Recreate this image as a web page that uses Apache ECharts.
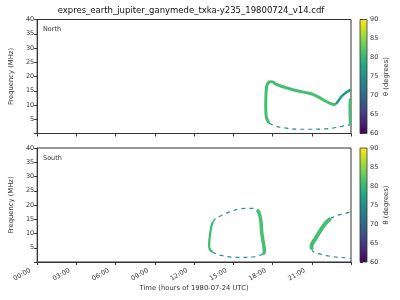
<!DOCTYPE html>
<html>
<head>
<meta charset="utf-8">
<script src="https://cdn.jsdelivr.net/npm/echarts@6/dist/echarts.min.js"></script>
<style>html,body{margin:0;padding:0;background:#fff}#c{width:400px;height:300px}</style>
</head>
<body>
<div id="c"></div>
<script>
// ---------- data (hours of day, MHz, theta degrees) ----------
const titleText = 'expres_earth_jupiter_ganymede_txka-y235_19800724_v14.cdf';
const timeTickLabels = ['00:00','03:00','06:00','09:00','12:00','15:00','18:00','21:00'];
const freqTickLabels = ['', '5', '10', '15', '20', '25', '30', '35', '40'];
const thetaTickLabels = ['60','65','70','75','80','85','90'];
const thetaRange = [60, 90];

// North hemisphere
const northLeftTop = [[17.75,3.7],[17.6,4.7],[17.5,6.5],[17.48,10],[17.5,14],[17.55,16.5],[17.65,17.7],[17.8,18.2],[18.0,18.1],[18.3,17.2],[18.8,16.4],[19.3,15.7],[19.8,15.1],[20.3,14.6],[20.8,14.1],[21.2,13.5],[21.6,12.6],[22.0,11.5],[22.4,10.6],[22.7,10.2],[22.85,10.3]];
const northLeftTopTheta = 81;
const northRise = [[22.85,10.3],[23.05,11.6],[23.3,13.1],[23.6,14.3],[23.97,15.4]];
const northRiseTheta = 76.5;
const northRightEdge = [[23.93,12.3],[23.9,9],[23.92,5],[23.96,3.0]];
const northRightEdgeTheta = 81;
const northBottom = [[17.75,3.7],[18.1,2.8],[18.6,2.2],[19.2,1.8],[20.0,1.5],[21.0,1.5],[22.0,1.6],[22.6,1.9],[23.2,2.4],[23.6,2.9],[23.96,3.0]];
const northBottomTheta = 74;

// South hemisphere
const southLeft = [[13.43,14.1],[13.3,12],[13.2,9],[13.15,6],[13.2,4.5],[13.4,3.6]];
const southLeftTheta = 80.5;
const southTop = [[13.43,14.1],[13.68,15.3],[14.18,16.5],[14.8,17.7],[15.43,18.6],[16.05,18.8],[16.55,18.8],[16.8,18.3]];
const southTopTheta = 76;
const southRight = [[16.8,18.3],[16.95,17.5],[17.1,14.7],[17.18,10.1],[17.3,6.6],[17.38,3.6],[17.25,2.7]];
const southRightTheta = 81;
const southBottom = [[13.4,3.6],[13.75,2.7],[14.2,2.2],[14.8,1.7],[15.5,1.6],[16.3,1.65],[16.9,2.2],[17.25,2.7]];
const southBottomTheta = 75;
const south2Band = [[22.43,15.3],[22.05,13.6],[21.68,11.2],[21.3,8.3],[20.98,5.6],[21.0,4.5]];
const south2BandTheta = 81;
const south2Top = [[22.43,15.3],[22.93,16.3],[23.43,16.9],[23.97,17.6]];
const south2TopTheta = 74;
const south2Bottom = [[21.0,4.5],[21.1,3.7],[21.43,3.0],[21.93,2.5],[22.3,2.1],[22.93,1.7],[23.5,1.5],[23.97,1.3]];
const south2BottomTheta = 74;

// ---------- styling ----------
const viridis = ['#440154','#482475','#414487','#355f8d','#2a788e','#21918c','#22a884','#44bf70','#7ad151','#bddf26','#fde725'];
function hex2rgb(h){return [1,3,5].map(i=>parseInt(h.substr(i,2),16));}
function thetaColor(t){
  let u = (t - thetaRange[0])/(thetaRange[1]-thetaRange[0]);
  u = Math.max(0, Math.min(1, u));
  const p = u*(viridis.length-1), i = Math.min(Math.floor(p), viridis.length-2), f = p - i;
  const a = hex2rgb(viridis[i]), b = hex2rgb(viridis[i+1]);
  return 'rgb(' + a.map((v,k)=>Math.round(v+(b[k]-v)*f)).join(',') + ')';
}
const FONT = 'DejaVu Sans';
const AX = '#333';

function seg(data, theta, grid, width, dashed){
  return {
    type:'line', xAxisIndex:grid, yAxisIndex:grid, data:data, symbol:'none', smooth:0.35,
    lineStyle:{color:thetaColor(theta), width:width, type: dashed ? [4,4] : 'solid', cap:'butt'},
    silent:true, animation:false, z:3
  };
}

const chart = echarts.init(document.getElementById('c'), null, {renderer:'canvas'});

const gridL = 31, gridW = 320, gridH = 114;
const tops = [19.5, 148];

function mainX(i, showLabels){
  return {
    gridIndex:i, type:'value', min:0, max:24, interval:3,
    axisLine:{show:true, lineStyle:{color:AX, width:1}},
    axisTick:{show:true, length:3, lineStyle:{color:AX}},
    splitLine:{show:false},
    axisLabel:{show:showLabels, rotate:30, align:'right', verticalAlign:'middle', padding:[0,8,0,0], fontSize:6.5, fontFamily:FONT, color:AX, margin:4,
      formatter:v => { const k = Math.round(v/3); return k < timeTickLabels.length ? timeTickLabels[k] : ''; }},
    name: showLabels ? 'Time (hours of 1980-07-24 UTC)' : '',
    nameLocation:'middle', nameGap:22,
    nameTextStyle:{fontSize:6.8, fontFamily:FONT, color:AX}
  };
}
function mainY(i){
  return {
    gridIndex:i, type:'value', min:0, max:40, interval:5,
    axisLine:{show:true, lineStyle:{color:AX, width:1}},
    axisTick:{show:true, length:3, lineStyle:{color:AX}},
    splitLine:{show:false},
    axisLabel:{fontSize:6.5, fontFamily:FONT, color:AX, margin:3,
      formatter:v => freqTickLabels[Math.round(v/5)] || ''},
    name:'Frequency (MHz)', nameLocation:'middle', nameGap:17,
    nameTextStyle:{fontSize:6.8, fontFamily:FONT, color:AX}
  };
}
function cbX(i){ return {gridIndex:i, type:'value', min:0, max:1, show:false}; }
function cbY(i){
  return {
    gridIndex:i, type:'value', min:thetaRange[0], max:thetaRange[1], interval:5, position:'right',
    axisLine:{show:false}, axisTick:{show:true, length:3, lineStyle:{color:AX}},
    splitLine:{show:false},
    axisLabel:{fontSize:6.5, fontFamily:FONT, color:AX, margin:3,
      formatter:v => thetaTickLabels[Math.round((v-thetaRange[0])/5)] || ''},
    name:'θ (degrees)', nameLocation:'middle', nameGap:16,
    nameTextStyle:{fontSize:6.8, fontFamily:FONT, color:AX}
  };
}
function cbSeries(i){
  return {
    type:'custom', xAxisIndex:i, yAxisIndex:i, data:[[thetaRange[0], thetaRange[1]]], silent:true, animation:false,
    renderItem:(params, api) => {
      const p0 = api.coord([0, api.value(0)]), p1 = api.coord([1, api.value(1)]);
      return {type:'rect', shape:{x:p0[0], y:p1[1], width:p1[0]-p0[0], height:p0[1]-p1[1]},
        style:{fill:new echarts.graphic.LinearGradient(0,1,0,0, viridis.map((c,k)=>({offset:k/(viridis.length-1), color:c}))),
               stroke:AX, lineWidth:0.8}};
    }
  };
}

const option = {
  backgroundColor:'#fff',
  animation:false,
  grid:[
    {left:gridL, top:tops[0], width:gridW, height:gridH, show:true, borderColor:AX, borderWidth:1, backgroundColor:'transparent'},
    {left:gridL, top:tops[1], width:gridW, height:gridH, show:true, borderColor:AX, borderWidth:1, backgroundColor:'transparent'},
    {left:360, top:tops[0], width:7, height:gridH},
    {left:360, top:tops[1], width:7, height:gridH}
  ],
  xAxis:[mainX(0,false), mainX(1,true), cbX(2), cbX(3)],
  yAxis:[mainY(0), mainY(1), cbY(2), cbY(3)],
  graphic:[
    {type:'text', style:{x:191, y:11, text:titleText, textAlign:'center', textVerticalAlign:'middle', font:'8.5px "DejaVu Sans"', fill:'#111'}},
    {type:'text', style:{x:43, y:29.5, text:'North', textAlign:'left', textVerticalAlign:'middle', font:'6.5px "DejaVu Sans"', fill:AX}},
    {type:'text', style:{x:43, y:158, text:'South', textAlign:'left', textVerticalAlign:'middle', font:'6.5px "DejaVu Sans"', fill:AX}}
  ],
  series:[
    seg(northBottom, northBottomTheta, 0, 1.2, true),
    seg(northLeftTop, northLeftTopTheta, 0, 3, false),
    seg(northRise, northRiseTheta, 0, 2.5, false),
    seg(northRightEdge, northRightEdgeTheta, 0, 2.5, false),
    seg(southBottom, southBottomTheta, 1, 1.2, true),
    seg(southTop, southTopTheta, 1, 1.2, true),
    seg(southLeft, southLeftTheta, 1, 2.2, false),
    seg(southRight, southRightTheta, 1, 3.5, false),
    seg(south2Top, south2TopTheta, 1, 1.2, true),
    seg(south2Bottom, south2BottomTheta, 1, 1.2, true),
    seg(south2Band, south2BandTheta, 1, 4, false),
    cbSeries(2), cbSeries(3)
  ]
};
chart.setOption(option);
</script>
</body>
</html>
